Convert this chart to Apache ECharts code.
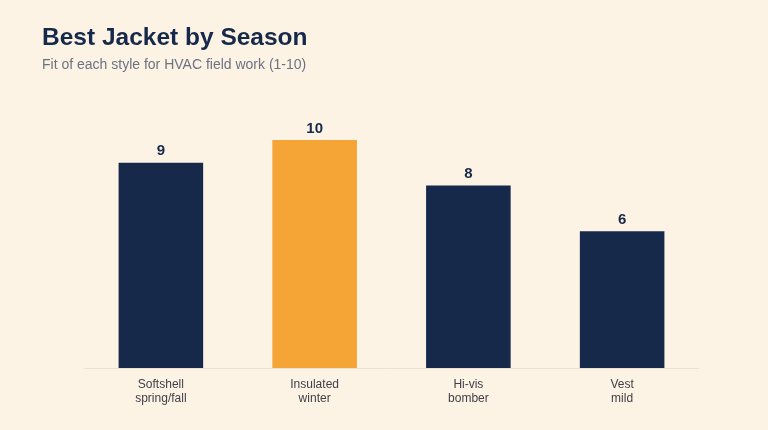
<!DOCTYPE html>
<html>
<head>
<meta charset="utf-8">
<style>
  html, body { margin: 0; padding: 0; background: #fdf3e5; }
  #main { width: 768px; height: 430px; }
</style>
<script src="https://cdn.jsdelivr.net/npm/echarts@6/dist/echarts.min.js"></script>
</head>
<body>
<div id="main"></div>
<script>
// 数据
var categories = ["Softshell\nspring/fall", "Insulated\nwinter", "Hi-vis\nbomber", "Vest\nmild"];
var scores = [9, 10, 8, 6];
var highlightIndex = 1; // 冬季款高亮

var navy = '#16294a';
var orange = '#f5a535';

var myChart = echarts.init(document.getElementById('main'));

var option = {
    backgroundColor: '#fdf3e5',
    title: {
        text: 'Best Jacket by Season',
        subtext: 'Fit of each style for HVAC field work (1-10)',
        left: 37,
        top: 21,
        itemGap: 7,
        textStyle: {
            fontFamily: 'Liberation Sans, Arial, sans-serif',
            fontSize: 24.5,
            fontWeight: 'bold',
            color: navy
        },
        subtextStyle: {
            fontFamily: 'Liberation Sans, Arial, sans-serif',
            fontSize: 14,
            color: '#6b7280'
        }
    },
    grid: {
        left: 84,
        right: 69,
        top: 140,
        bottom: 62,
        containLabel: false
    },
    xAxis: {
        type: 'category',
        data: categories,
        axisLine: { lineStyle: { color: '#ece2d2', width: 1 } },
        axisTick: { show: false },
        axisLabel: {
            color: '#3f3f46',
            fontSize: 12,
            lineHeight: 14,
            margin: 10,
            fontFamily: 'Liberation Sans, Arial, sans-serif'
        }
    },
    yAxis: {
        type: 'value',
        min: 0,
        max: 10,
        show: false,
        splitLine: { show: false }
    },
    series: [{
        type: 'bar',
        barWidth: '55%',
        data: scores.map(function (v, i) {
            return {
                value: v,
                itemStyle: { color: i === highlightIndex ? orange : navy }
            };
        }),
        label: {
            show: true,
            position: 'top',
            distance: 4,
            color: navy,
            fontSize: 15,
            fontWeight: 'bold',
            fontFamily: 'Liberation Sans, Arial, sans-serif'
        }
    }]
};

myChart.setOption(option);
window.onresize = myChart.resize;
</script>
</body>
</html>
